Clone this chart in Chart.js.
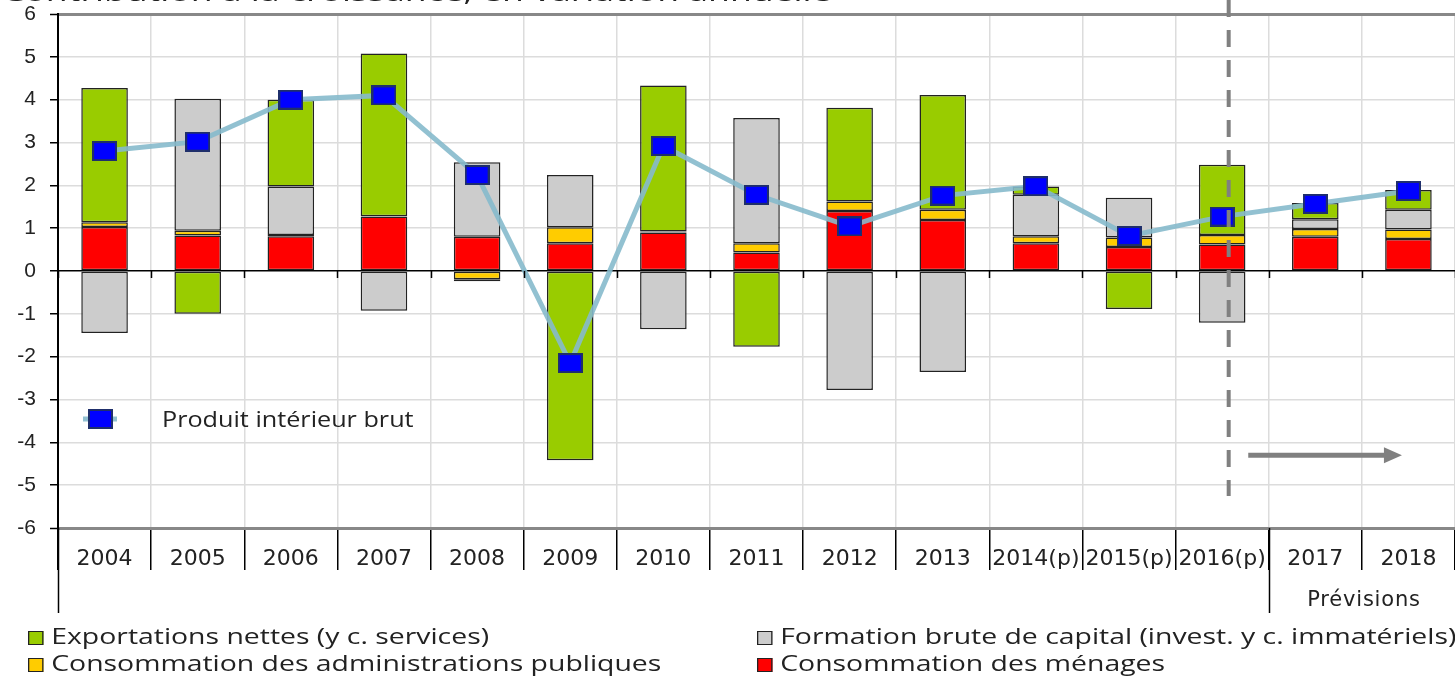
<!DOCTYPE html>
<html lang="fr">
<head>
<meta charset="utf-8">
<script src="https://cdn.jsdelivr.net/npm/chart.js@4.4.1/dist/chart.umd.min.js"></script>
<style>
  html, body { margin: 0; padding: 0; background: #fff; }
  #wrap { position: relative; width: 1455px; height: 676px; overflow: hidden; font-family: 'Open Sans', sans-serif; color: #222; }
  #chart { position: absolute; left: 0; top: 0; }
  .title { position: absolute; left: 2px; top: -25px; font-size: 26px; line-height: 32px; white-space: nowrap; transform: scaleX(1.37); transform-origin: left top; }
  .leg { position: absolute; font-size: 22px; white-space: nowrap; line-height: 26px; transform: scaleX(1.29); transform-origin: left center; }
  .leg i { display: inline-block; width: 10px; height: 12px; border: 1px solid #222; margin-right: 6px; vertical-align: -1px; }
  .gdp { position: absolute; left: 162px; top: 405px; font-size: 21px; white-space: nowrap; transform: scaleX(1.2); transform-origin: left top; }
  .prev { position: absolute; left: 1273px; width: 182px; top: 587px; text-align: center; font-family: 'DejaVu Sans', sans-serif; font-size: 21px; letter-spacing: 0.8px; }
</style>
</head>
<body>
<div id="wrap">
  <canvas id="chart" width="1455" height="676"></canvas>
  <div class="title">Contribution à la croissance, en variation annuelle</div>
  <div class="gdp">Produit intérieur brut</div>
  <div class="prev">Prévisions</div>
  <div class="leg" style="left:28px; top:622px"><i style="background:#99cc00"></i>Exportations nettes (y c. services)</div>
  <div class="leg" style="left:28px; top:649px"><i style="background:#ffcc00"></i>Consommation des administrations publiques</div>
  <div class="leg" style="left:757px; top:622px"><i style="background:#cccccc"></i>Formation brute de capital (invest. y c. immatériels)</div>
  <div class="leg" style="left:757px; top:649px"><i style="background:#ff0000"></i>Consommation des ménages</div>
</div>
<script>
const years = ['2004', '2005', '2006', '2007', '2008', '2009', '2010', '2011', '2012', '2013', '2014(p)', '2015(p)', '2016(p)', '2017', '2018'];
const menages = [1.03, 0.83, 0.81, 1.27, 0.80, 0.65, 0.90, 0.43, 1.40, 1.19, 0.65, 0.56, 0.62, 0.80, 0.75];
const administrations = [0.11, 0.11, 0.03, 0.01, -0.19, 0.37, 0.02, 0.22, 0.22, 0.24, 0.16, 0.22, 0.22, 0.18, 0.22];
const formationCapital = [-1.45, 3.08, 1.13, -0.93, 1.74, 1.22, -1.36, 2.92, -2.78, -2.36, 0.97, 0.93, -1.21, 0.23, 0.46];
const exportations = [3.13, -1.0, 2.03, 3.8, -0.05, -4.42, 3.41, -1.77, 2.19, 2.68, 0.19, -0.89, 1.64, 0.38, 0.46];
const pib = [2.8, 3.02, 4.0, 4.1, 2.24, -2.15, 2.92, 1.78, 1.04, 1.76, 1.98, 0.82, 1.27, 1.57, 1.87];
const yTicks = [-6, -5, -4, -3, -2, -1, 0, 1, 2, 3, 4, 5, 6];

// where the forecast marks sit, in category units
const forecastLine = 12.07;
const arrowFrom = 12.28, arrowTo = 13.93, arrowY = -4.3;

// blue square used for the GDP points
const marker = document.createElement('canvas');
marker.width = 25; marker.height = 20;
(function () {
    const c = marker.getContext('2d');
    c.fillStyle = '#0000ff';
    c.fillRect(1, 1, 23, 18);
    c.strokeStyle = '#1f2f6b';
    c.lineWidth = 2;
    c.strokeRect(1, 1, 23, 18);
})();

function bar(label, data, color) {
    return {
        type: 'bar', label, data,
        backgroundColor: color,
        borderColor: '#222',
        borderWidth: 1.5,
        borderSkipped: false,
        barPercentage: 0.5,
        categoryPercentage: 1,
        order: 1
    };
}

function noPadding(s) {
    s.paddingLeft = 0; s.paddingRight = 0; s.paddingTop = 0; s.paddingBottom = 0;
}

const extras = {
    id: 'extras',
    afterDatasetsDraw(chart) {
        const ctx = chart.ctx;
        const x = chart.scales.x, y = chart.scales.y;
        const y0 = y.getPixelForValue(0);
        ctx.save();
        // small ticks on the zero line
        ctx.strokeStyle = '#000';
        ctx.lineWidth = 1.5;
        for (let i = 0; i <= years.length; i++) {
            const px = Math.round(x.getPixelForValue(i - 0.5)) + 0.5;
            ctx.beginPath(); ctx.moveTo(px, y0); ctx.lineTo(px, y0 + 7); ctx.stroke();
        }
        // long separators for the two-level axis
        [x.left + 0.5, Math.round(x.getPixelForValue(12.5)) + 0.5].forEach(px => {
            ctx.beginPath(); ctx.moveTo(px, y.bottom); ctx.lineTo(px, 613); ctx.stroke();
        });
        // dashed forecast line
        const fx = x.getPixelForValue(forecastLine);
        ctx.strokeStyle = '#808080';
        ctx.lineWidth = 4;
        ctx.setLineDash([17, 13]);
        ctx.beginPath(); ctx.moveTo(fx, 0); ctx.lineTo(fx, y.getPixelForValue(-5.25)); ctx.stroke();
        ctx.setLineDash([]);
        // arrow
        const ax1 = x.getPixelForValue(arrowFrom), ax2 = x.getPixelForValue(arrowTo), ay = y.getPixelForValue(arrowY);
        ctx.lineWidth = 5;
        ctx.beginPath(); ctx.moveTo(ax1, ay); ctx.lineTo(ax2 - 16, ay); ctx.stroke();
        ctx.fillStyle = '#808080';
        ctx.beginPath(); ctx.moveTo(ax2, ay); ctx.lineTo(ax2 - 18, ay - 8); ctx.lineTo(ax2 - 18, ay + 8); ctx.closePath(); ctx.fill();
        // legend sample for the GDP line
        ctx.strokeStyle = 'rgba(134,186,204,0.9)';
        ctx.lineWidth = 5;
        ctx.beginPath(); ctx.moveTo(83, 419); ctx.lineTo(117, 419); ctx.stroke();
        ctx.drawImage(marker, 88, 409);
        ctx.restore();
    }
};

new Chart(document.getElementById('chart'), {
    data: {
        labels: years,
        datasets: [
            {
                type: 'line', label: 'Produit intérieur brut', data: pib,
                borderColor: 'rgba(134,186,204,0.9)', borderWidth: 5,
                pointStyle: marker, pointRadius: 10, pointHoverRadius: 10,
                tension: 0, order: 0
            },
            bar('Consommation des ménages', menages, '#ff0000'),
            bar('Consommation des administrations publiques', administrations, '#ffcc00'),
            bar('Formation brute de capital (invest. y c. immatériels)', formationCapital, '#cccccc'),
            bar('Exportations nettes (y c. services)', exportations, '#99cc00')
        ]
    },
    options: {
        responsive: false,
        animation: false,
        layout: { autoPadding: false, padding: { top: 14, right: 0, left: 0, bottom: 0 } },
        plugins: { legend: { display: false }, tooltip: { enabled: false } },
        scales: {
            x: {
                stacked: true,
                afterFit: s => { s.height = 148; noPadding(s); },
                grid: { offset: true, color: '#dcdcdc', lineWidth: 1.5, tickColor: '#000', tickLength: 42, tickWidth: 1.5 },
                border: { color: '#888', width: 3 },
                ticks: { autoSkip: false, maxRotation: 0, padding: -24, color: '#222', font: { family: 'DejaVu Sans', size: 22 } }
            },
            y: {
                stacked: true,
                min: -6, max: 6,
                afterFit: s => { s.width = 58; noPadding(s); },
                afterBuildTicks: s => { s.ticks = yTicks.map(v => ({ value: v })); },
                grid: {
                    color: c => c.tick.value === 0 ? '#000' : (Math.abs(c.tick.value) === 6 ? '#888' : '#dcdcdc'),
                    lineWidth: c => Math.abs(c.tick.value) === 6 ? 3 : 1.5,
                    tickColor: '#000', tickLength: 8, tickWidth: 1.5
                },
                border: { color: '#000', width: 2 },
                ticks: { padding: 14, color: '#222', font: { family: 'Liberation Sans', size: 21 } }
            }
        }
    },
    plugins: [extras]
});
</script>
</body>
</html>
